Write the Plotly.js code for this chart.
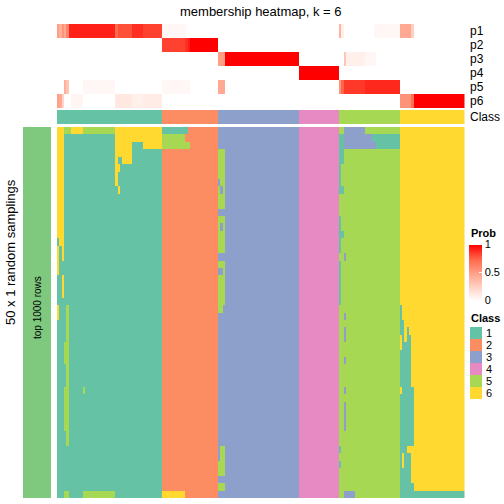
<!DOCTYPE html>
<html><head><meta charset="utf-8">
<script src="https://cdn.plot.ly/plotly-3.0.1.min.js"></script>
<style>html,body{margin:0;padding:0;background:#fff}#chart{width:504px;height:504px}</style>
</head><body><div id="chart"></div>
<script>
// ---------------- data ----------------
const probRows = ['p1','p2','p3','p4','p5','p6'];
const classLabels = ['1','2','3','4','5','6'];
const classColors = ['#66C2A5','#FC8D62','#8DA0CB','#E78AC3','#A6D854','#FFD92F'];
const classCounts = [45,24,35,17,26,28];          // samples per consensus class (columns)
const samplingCount = 50;                          // rows of the random-sampling heatmap
const probTicks = [0,0.5,1];

// membership probability runs: [firstCol, lastCol, prob]; unlisted cells are 0
const p1Runs = [[0,0,0.5],[1,1,0.42],[2,2,0.55],[3,3,0.45],[4,4,0.62],[5,24,0.92],[25,25,0.72],[26,31,0.8],[32,36,0.88],[37,44,0.84],[45,54,0.04],[55,55,0.02],[121,121,0.4],[122,122,0.08],[136,146,0.04],[147,151,0.45],[152,152,0.25]];
const p2Runs = [[45,54,0.84],[55,55,0.88],[56,56,0.93],[57,68,1]];
const p3Runs = [[69,71,0.5],[72,103,1],[123,123,0.3],[124,131,0.08],[132,136,0.04]];
const p4Runs = [[104,120,1]];
const p5Runs = [[3,3,0.42],[4,4,0.3],[11,24,0.04],[45,56,0.04],[69,71,0.45],[121,121,0.55],[122,122,0.75],[123,131,0.86],[132,146,0.9]];
const p6Runs = [[0,0,0.5],[1,1,0.45],[2,2,0.22],[6,10,0.05],[25,31,0.12],[32,36,0.08],[37,44,0.1],[147,151,0.55],[152,152,0.7],[153,174,1]];

// sampling heatmap cells that differ from the column's class: [firstRow, lastRow, firstCol, lastCol, class]
const samplingOverrides = [
  [0,14,0,2,6],[15,15,1,2,6],[16,19,0,0,6],[16,17,2,2,6],[20,22,2,2,6],[24,25,0,0,6],
  [0,0,3,5,5],[0,0,6,10,6],[0,0,11,24,5],[0,0,25,44,6],[1,1,25,44,6],
  [2,2,25,31,6],[2,2,37,44,6],[3,3,25,31,6],[4,4,25,25,6],[4,4,28,31,6],
  [5,5,25,26,6],[6,7,25,25,6],[8,8,26,26,6],
  [24,28,4,4,5],[29,31,3,4,5],[32,34,4,4,5],[35,40,3,4,5],[35,35,11,11,5],[41,42,4,4,5],
  [49,49,3,4,5],[49,49,11,24,5],
  [0,0,45,55,1],[1,1,45,54,5],[2,2,45,56,5],[49,49,45,54,6],
  [3,16,69,71,5],[7,7,69,69,3],[8,8,70,70,3],[11,11,69,71,3],[13,13,70,70,3],
  [18,23,69,71,5],[19,19,69,70,3],[24,24,69,70,5],[43,44,70,71,5],[45,46,69,71,5],[48,48,69,71,5],
  [0,0,123,131,3],[1,1,121,122,1],[1,1,123,134,3],[1,1,135,146,1],
  [2,2,121,122,1],[2,2,123,136,3],[2,2,137,146,1],[3,4,121,122,1],[5,7,121,121,1],
  [8,8,121,122,1],[12,13,121,121,1],[14,14,121,122,1],[15,16,121,121,1],[17,17,123,123,3],
  [18,23,121,121,1],[25,25,123,123,3],[27,28,123,123,3],[31,31,123,123,3],[35,35,123,123,3],
  [37,40,123,123,3],[43,43,121,121,1],[45,45,121,121,1],[49,49,123,127,3],
  [24,25,147,147,1],[26,26,147,148,1],[27,27,147,148,1],[27,27,150,150,1],
  [28,28,148,148,1],[28,28,150,151,1],[29,29,148,151,1],[30,34,147,151,1],
  [35,35,148,152,1],[36,42,147,152,1],[43,43,147,149,1],[44,45,147,147,1],[44,45,149,151,1],
  [46,47,147,151,1],[48,48,147,152,1],[49,49,147,174,1]
];

// ---------------- build matrices ----------------
const columnClass = [];
classCounts.forEach((n,i)=>{ for(let k=0;k<n;k++) columnClass.push(i+1); });
const nCols = columnClass.length;
const colIdx = columnClass.map((_,i)=>i);

const probRunsAll = [p1Runs,p2Runs,p3Runs,p4Runs,p5Runs,p6Runs];
const probZ = probRunsAll.map(runs=>{
  const row = new Array(nCols).fill(0);
  runs.forEach(([a,b,v])=>{ for(let c=a;c<=b;c++) row[c]=v; });
  return row;
});

const sampZ = [];
for(let r=0;r<samplingCount;r++) sampZ.push(columnClass.slice());
samplingOverrides.forEach(([r0,r1,c0,c1,k])=>{
  for(let r=r0;r<=r1;r++) for(let c=c0;c<=c1;c++) sampZ[r][c]=k;
});
const sampRows = sampZ.map((_,i)=>i);

const classScale = [];
classColors.forEach((col,i)=>{ classScale.push([i/6,col]); classScale.push([(i+1)/6,col]); });

const probScale = [[0,'#FFFFFF'],[0.25,'#FFD0C2'],[0.5,'#FF9F86'],[0.75,'#FF6549'],[1,'#FF0000']];

// ---------------- layout geometry (px) ----------------
const W=504,H=504;
const X0=57, X1=464.5;
const fy = px => 1 - px/H, fx = px => px/W;
const FONT = '"Liberation Sans", Arial, Helvetica, sans-serif';

const traces = [
  {type:'heatmap', x:colIdx, y:probRows.map((_,i)=>i), z:probZ, xaxis:'x', yaxis:'y2',
   colorscale:probScale, zmin:0, zmax:1, hoverinfo:'skip',
   colorbar:{x:fx(469), xanchor:'left', y:fy(272.5), yanchor:'middle', len:56, lenmode:'pixels',
     thickness:13, thicknessmode:'pixels', xpad:0, ypad:0, outlinewidth:0,
     tickvals:probTicks, ticktext:probTicks.map(String), ticks:'inside', ticklen:3, tickcolor:'#ffffff',
     tickfont:{family:FONT,size:11,color:'#000'}}},
  {type:'heatmap', x:colIdx, y:[0], z:[columnClass], xaxis:'x', yaxis:'y3',
   colorscale:classScale, zmin:0.5, zmax:6.5, showscale:false, hoverinfo:'skip'},
  {type:'heatmap', x:colIdx, y:sampRows, z:sampZ, xaxis:'x', yaxis:'y',
   colorscale:classScale, zmin:0.5, zmax:6.5, showscale:false, hoverinfo:'skip'}
];

const hidden = {showgrid:false, zeroline:false, showticklabels:false, ticks:'', showline:false, fixedrange:true};

const annotations = [
  {text:'membership heatmap, k = 6', xref:'paper', yref:'paper', x:fx(260.5), y:fy(11), xanchor:'center', yanchor:'middle', showarrow:false, font:{family:FONT,size:13,color:'#000'}},
  {text:'50 x 1 random samplings', xref:'paper', yref:'paper', x:fx(10), y:fy(252), textangle:-90, xanchor:'center', yanchor:'middle', showarrow:false, font:{family:FONT,size:13,color:'#000'}},
  {text:'top 1000 rows', xref:'paper', yref:'paper', x:fx(37), y:fy(308), textangle:-90, xanchor:'center', yanchor:'middle', showarrow:false, font:{family:FONT,size:10,color:'#000'}},
  {text:'Class', xref:'paper', yref:'y3', x:fx(468), y:0, xanchor:'left', yanchor:'middle', showarrow:false, font:{family:FONT,size:12,color:'#000'}},
  {text:'<b>Prob</b>', xref:'paper', yref:'paper', x:fx(469), y:fy(233), xanchor:'left', yanchor:'middle', showarrow:false, font:{family:FONT,size:11,color:'#000'}},
  {text:'<b>Class</b>', xref:'paper', yref:'paper', x:fx(469), y:fy(318), xanchor:'left', yanchor:'middle', showarrow:false, font:{family:FONT,size:11,color:'#000'}}
];
probRows.forEach((p,i)=>annotations.push({text:p, xref:'paper', yref:'y2', x:fx(468), y:i, xanchor:'left', yanchor:'middle', showarrow:false, font:{family:FONT,size:12,color:'#000'}}));

const shapes = [
  {type:'rect', xref:'paper', yref:'paper', x0:fx(23), x1:fx(51), y0:fy(498), y1:fy(127), fillcolor:'#7FC97F', line:{width:0}, layer:'below'}
];
classLabels.forEach((lab,i)=>{
  const yc = 333 + 12*i;
  shapes.push({type:'rect', xref:'paper', yref:'paper', x0:fx(470), x1:fx(482), y0:fy(yc+6), y1:fy(yc-6), fillcolor:classColors[i], line:{width:0}});
  annotations.push({text:lab, xref:'paper', yref:'paper', x:fx(484), y:fy(yc), xanchor:'left', yanchor:'middle', showarrow:false, font:{family:FONT,size:11,color:'#000'}});
});

const layout = {
  width:W, height:H, margin:{l:0,r:0,t:0,b:0}, paper_bgcolor:'#fff', plot_bgcolor:'#fff',
  showlegend:false, font:{family:FONT},
  xaxis:Object.assign({domain:[fx(X0),fx(X1)], range:[-0.5,nCols-0.5], anchor:'y'}, hidden),
  yaxis:Object.assign({domain:[fy(498),fy(127)], range:[samplingCount-0.5,-0.5], anchor:'x'}, hidden),
  yaxis2:Object.assign({domain:[fy(108),fy(24)], range:[probRows.length-0.5,-0.5], anchor:'x'}, hidden),
  yaxis3:Object.assign({domain:[fy(124),fy(110)], range:[0.5,-0.5], anchor:'x'}, hidden),
  annotations, shapes
};

Plotly.newPlot('chart', traces, layout, {staticPlot:true, displayModeBar:false});
</script>
</body></html>
